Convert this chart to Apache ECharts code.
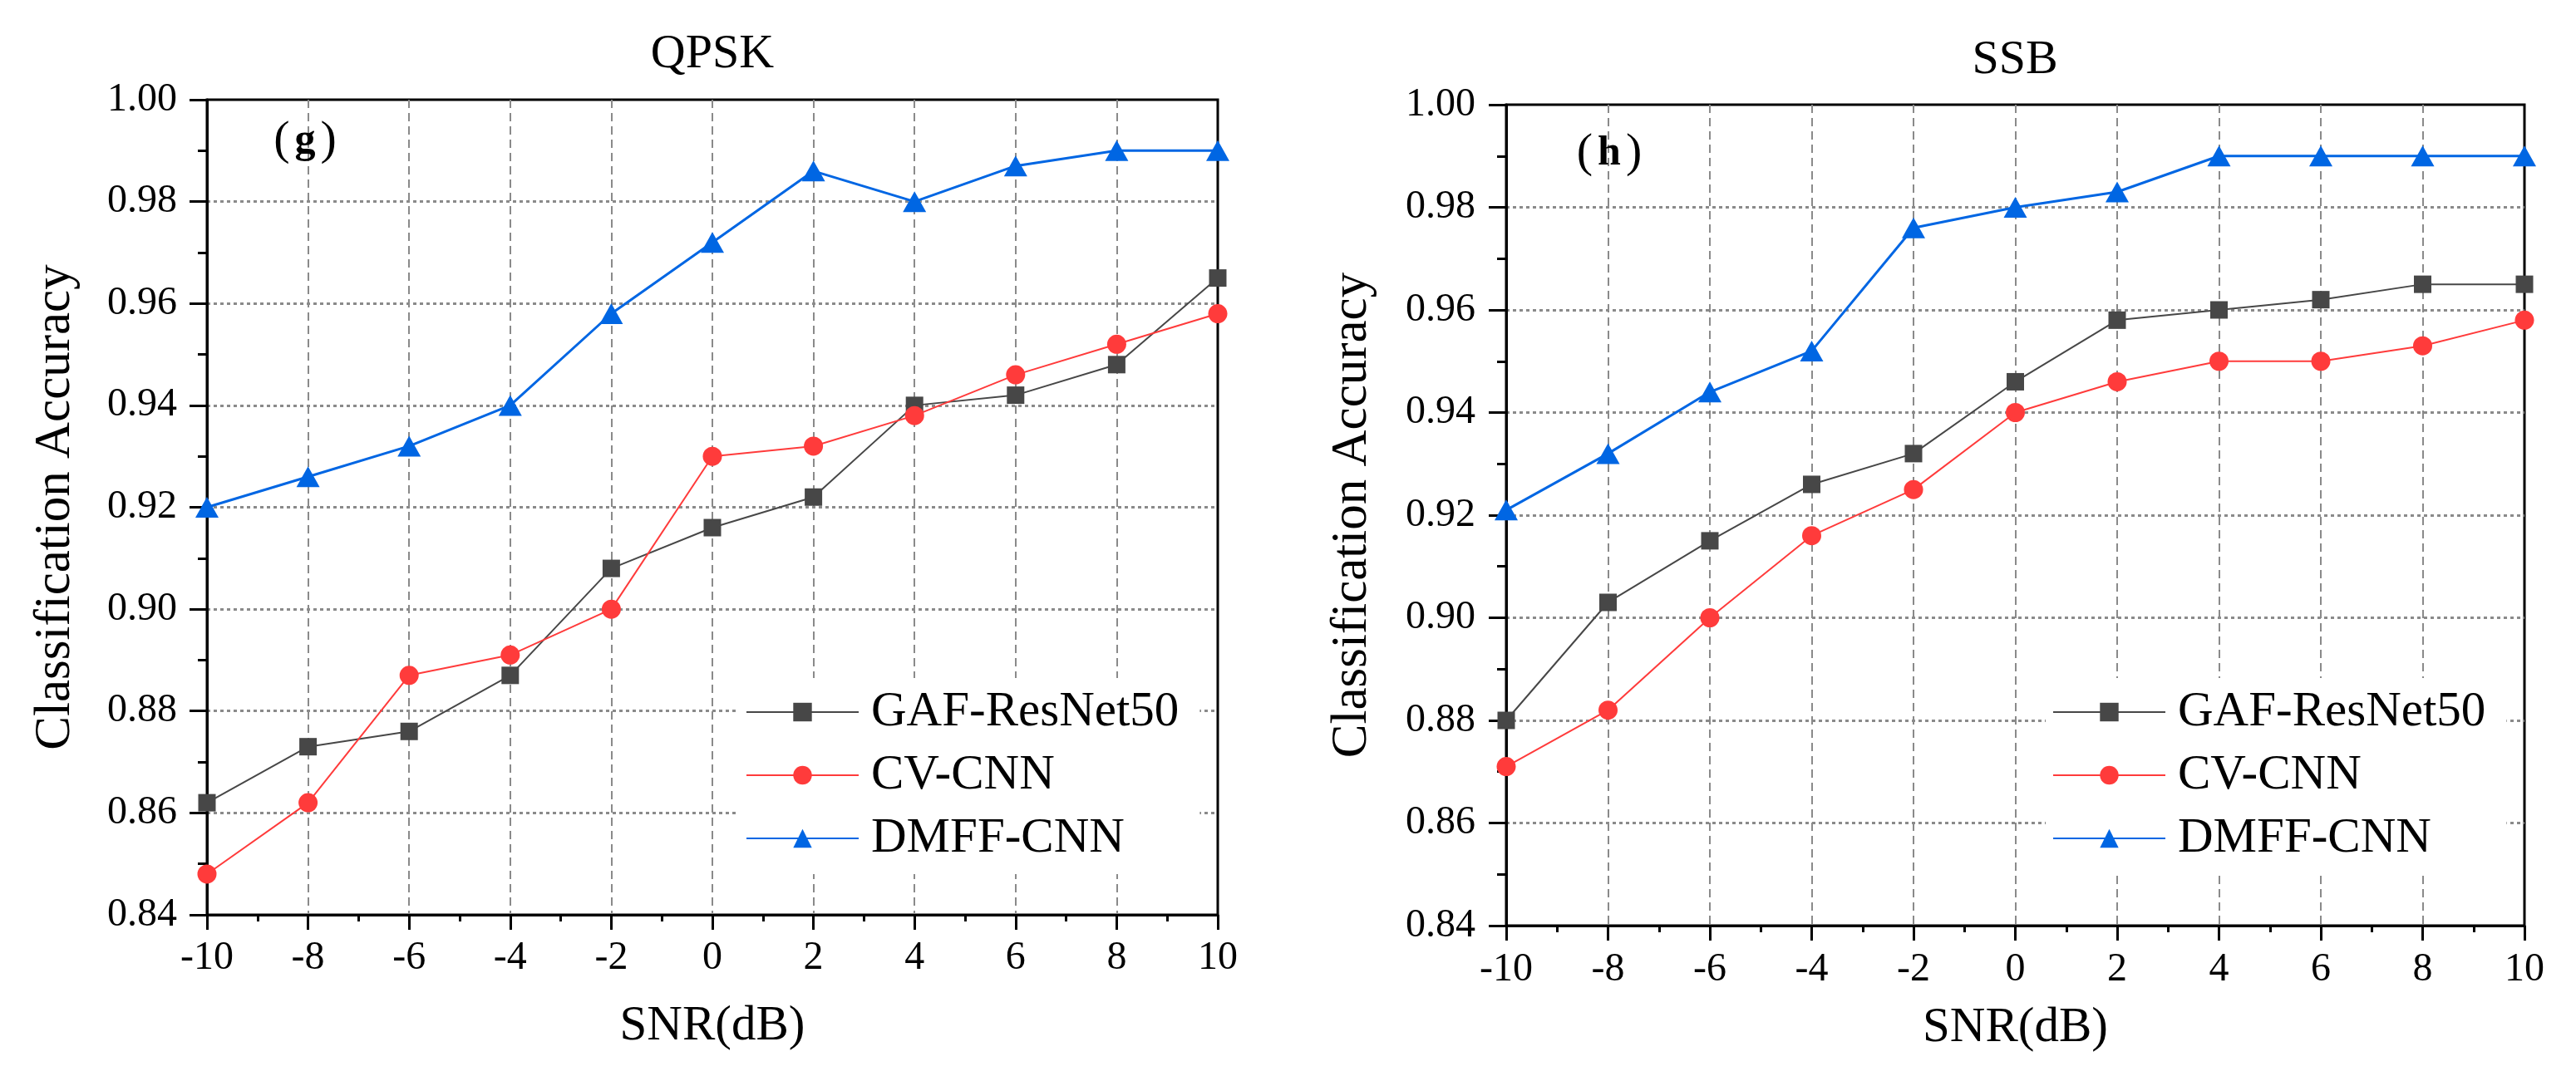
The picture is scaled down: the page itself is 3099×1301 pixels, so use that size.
<!DOCTYPE html>
<html>
<head>
<meta charset="utf-8">
<script src="https://cdn.jsdelivr.net/npm/echarts@6/dist/echarts.min.js"></script>
<style>
  html, body { margin: 0; padding: 0; background: #fff; }
  #main { width: 3099px; height: 1301px; }
</style>
</head>
<body>
<div id="main"></div>
<script>
// SNR 横轴
var snr = [-10, -8, -6, -4, -2, 0, 2, 4, 6, 8, 10];

// (g) QPSK
var qpskGaf  = [0.862, 0.873, 0.876, 0.887, 0.908, 0.916, 0.922, 0.940, 0.942, 0.948, 0.965];
var qpskCv   = [0.848, 0.862, 0.887, 0.891, 0.900, 0.930, 0.932, 0.938, 0.946, 0.952, 0.958];
var qpskDmff = [0.920, 0.926, 0.932, 0.940, 0.958, 0.972, 0.986, 0.980, 0.987, 0.990, 0.990];

// (h) SSB
var ssbGaf  = [0.880, 0.903, 0.915, 0.926, 0.932, 0.946, 0.958, 0.960, 0.962, 0.965, 0.965];
var ssbCv   = [0.871, 0.882, 0.900, 0.916, 0.925, 0.940, 0.946, 0.950, 0.950, 0.953, 0.958];
var ssbDmff = [0.921, 0.932, 0.944, 0.952, 0.976, 0.980, 0.983, 0.990, 0.990, 0.990, 0.990];

var names = ['GAF-ResNet50', 'CV-CNN', 'DMFF-CNN'];

var serif = 'Liberation Serif';
var colGaf = '#474747', colCv = '#ff3b3b', colDmff = '#0066e3';

function pairs(arr) {
  return snr.map(function (x, i) { return [x, arr[i]]; });
}

function xAxisOf(idx, labelMargin, nameGap) {
  return {
    gridIndex: idx,
    type: 'value',
    min: -10, max: 10, interval: 2,
    name: 'SNR(dB)',
    nameLocation: 'middle',
    nameGap: nameGap,
    nameTextStyle: { fontFamily: serif, fontSize: 59, color: '#000' },
    axisLine: { onZero: false, lineStyle: { color: '#000', width: 3 } },
    axisTick: { length: 18, lineStyle: { color: '#000', width: 3 } },
    minorTick: { show: true, splitNumber: 2, length: 8, lineStyle: { color: '#000', width: 3 } },
    axisLabel: { margin: labelMargin, fontFamily: serif, fontSize: 48, color: '#000' },
    splitLine: {
      show: true, showMinLine: false, showMaxLine: false,
      lineStyle: { color: '#8a8a8a', width: 2, type: [10, 6] }
    }
  };
}

function yAxisOf(idx, labelMargin, nameGap) {
  return {
    gridIndex: idx,
    type: 'value',
    min: 0.84, max: 1.00, interval: 0.02,
    name: 'Classification Accuracy',
    nameLocation: 'middle',
    nameGap: nameGap,
    nameTextStyle: { fontFamily: serif, fontSize: 61, color: '#000' },
    axisLine: { show: true, onZero: false, lineStyle: { color: '#000', width: 3 } },
    axisTick: { show: true, length: 21, lineStyle: { color: '#000', width: 3 } },
    minorTick: { show: true, splitNumber: 2, length: 11, lineStyle: { color: '#000', width: 3 } },
    axisLabel: {
      margin: labelMargin, fontFamily: serif, fontSize: 48, color: '#000',
      formatter: function (v) { return v.toFixed(2); }
    },
    splitLine: {
      show: true, showMinLine: false, showMaxLine: false,
      lineStyle: { color: '#8a8a8a', width: 3, type: [4, 4] }
    }
  };
}

function lineOf(idx, name, arr, color, symbol, size, width) {
  return {
    name: name,
    type: 'line',
    xAxisIndex: idx,
    yAxisIndex: idx,
    data: pairs(arr),
    symbol: symbol,
    symbolSize: size,
    itemStyle: { color: color },
    lineStyle: { color: color, width: width }
  };
}

function legendOf(left) {
  return {
    orient: 'vertical',
    left: left,
    top: 816,
    data: names,
    itemWidth: 135,
    itemHeight: 28,
    itemGap: 16,
    padding: [11, 25, 13, 8],
    backgroundColor: '#fff',
    textStyle: { fontFamily: serif, fontSize: 59, color: '#000', lineHeight: 60, padding: [0, 0, 0, 10] }
  };
}

function panelLabel(x, y, letter) {
  return {
    type: 'text',
    x: x, y: y,
    z: 100,
    style: {
      text: '{p|(}{b|' + letter + '}{p|)}',
      align: 'center',
      verticalAlign: 'middle',
      rich: {
        p: { fontFamily: serif, fontSize: 58, fill: '#000', padding: [0, 6] },
        b: { fontFamily: serif, fontSize: 50, fontWeight: 'bold', fill: '#000' }
      }
    }
  };
}

var chart = echarts.init(document.getElementById('main'));

var option = {
  animation: false,
  backgroundColor: '#fff',
  title: [
    { text: 'QPSK', left: 857, top: 37, textAlign: 'center', padding: 0,
      textStyle: { fontFamily: serif, fontSize: 58, fontWeight: 'normal', color: '#000' } },
    { text: 'SSB', left: 2424, top: 44, textAlign: 'center', padding: 0,
      textStyle: { fontFamily: serif, fontSize: 58, fontWeight: 'normal', color: '#000' } }
  ],
  grid: [
    { left: 249, top: 120, width: 1216, height: 981, show: true, borderColor: '#000', borderWidth: 3, backgroundColor: 'transparent' },
    { left: 1812, top: 126, width: 1225, height: 988, show: true, borderColor: '#000', borderWidth: 3, backgroundColor: 'transparent' }
  ],
  legend: [legendOf(889), legendOf(2461)],
  xAxis: [xAxisOf(0, 28, 105), xAxisOf(1, 29, 94)],
  yAxis: [yAxisOf(0, 36, 152), yAxisOf(1, 37, 155)],
  graphic: [panelLabel(367, 170, 'g'), panelLabel(1936, 185, 'h')],
  series: [
    lineOf(0, names[0], qpskGaf, colGaf, 'rect', 21, 2),
    lineOf(0, names[1], qpskCv, colCv, 'circle', 23, 2),
    lineOf(0, names[2], qpskDmff, colDmff, 'triangle', [28, 25], 3),
    lineOf(1, names[0], ssbGaf, colGaf, 'rect', 21, 2),
    lineOf(1, names[1], ssbCv, colCv, 'circle', 23, 2),
    lineOf(1, names[2], ssbDmff, colDmff, 'triangle', [28, 25], 3)
  ]
};

chart.setOption(option);
</script>
</body>
</html>
